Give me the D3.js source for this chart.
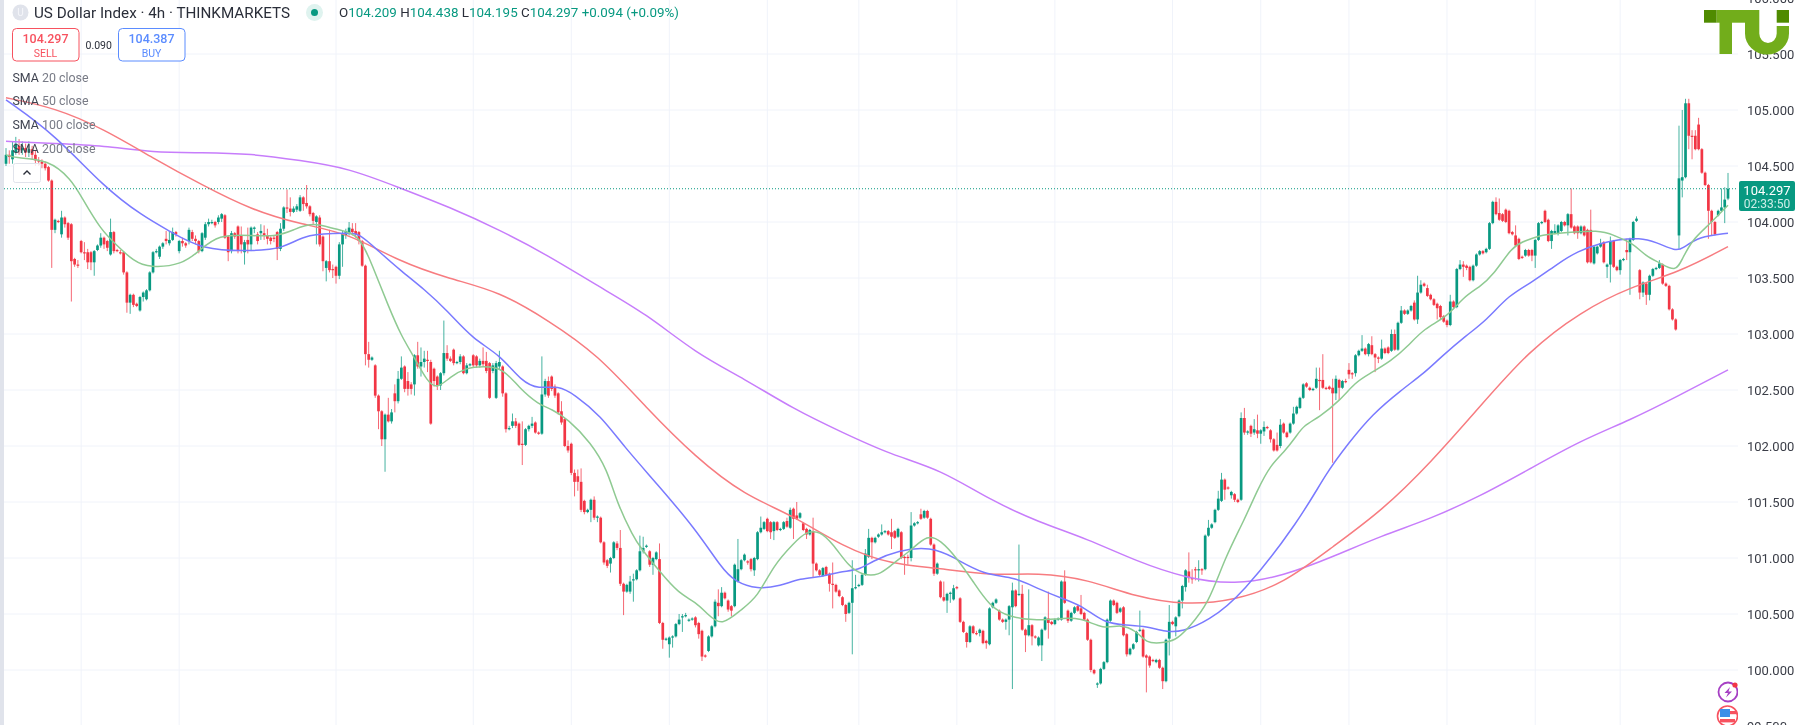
<!DOCTYPE html>
<html>
<head>
<meta charset="utf-8">
<script src="https://cdn.jsdelivr.net/npm/d3@7"></script>
<style>
	html, body { margin: 0; padding: 0; background: #fff; overflow: hidden; }
	svg { display: block; font-family: Roboto, sans-serif; filter: blur(0.35px); }
</style>
</head>
<body>
<svg id="chart" width="1800" height="725"></svg>
<script>
const opens = [
104.52,104.60,104.56,104.62,104.68,104.64,104.66,104.62,104.65,104.60,
104.55,104.54,104.52,104.49,104.37,103.93,104.01,103.89,104.04,103.99,
103.98,103.67,103.62,103.83,103.73,103.73,103.73,103.64,103.75,103.79,
103.86,103.83,103.71,103.91,103.75,103.73,103.73,103.55,103.28,103.35,
103.27,103.21,103.33,103.31,103.39,103.55,103.73,103.69,103.78,103.85,
103.81,103.84,103.91,103.74,103.83,103.81,103.83,103.91,103.85,103.83,
103.74,103.86,103.98,104.00,104.00,104.00,104.03,104.06,103.87,103.74,
103.90,103.96,103.88,103.73,103.84,103.80,103.94,103.89,103.90,103.90,
103.88,103.86,103.86,103.91,103.76,103.94,104.13,104.12,104.09,104.11,
104.10,104.22,104.17,104.14,104.08,104.00,104.04,103.87,103.59,103.65,
103.58,103.60,103.52,103.80,103.88,103.90,103.94,103.92,103.91,103.83,
103.61,102.82,102.77,102.72,102.45,102.31,102.06,102.28,102.22,102.47,
102.40,102.60,102.71,102.58,102.55,102.55,102.81,102.71,102.75,102.77,
102.75,102.69,102.62,102.54,102.65,102.83,102.78,102.86,102.74,102.75,
102.80,102.65,102.72,102.81,102.80,102.72,102.76,102.76,102.74,102.67,
102.43,102.71,102.71,102.47,102.15,102.18,102.22,102.20,102.02,102.01,
102.15,102.18,102.21,102.12,102.11,102.46,102.58,102.62,102.53,102.47,
102.31,102.24,102.00,102.02,101.76,101.73,101.68,101.51,101.41,101.43,
101.52,101.36,101.36,101.14,100.98,100.95,101.00,101.13,101.09,100.77,
100.70,100.70,100.80,100.81,100.89,101.06,101.10,101.06,100.94,100.99,
100.99,100.42,100.27,100.23,100.29,100.30,100.41,100.47,100.48,100.44,
100.45,100.47,100.42,100.35,100.13,100.17,100.30,100.39,100.60,100.57,
100.69,100.62,100.57,100.57,100.79,100.90,100.98,100.97,100.99,100.89,
100.99,101.23,101.26,101.35,101.32,101.24,101.32,101.25,101.26,101.33,
101.27,101.44,101.38,101.36,101.31,101.26,101.21,101.24,100.95,100.89,
100.84,100.92,100.86,100.77,100.76,100.71,100.65,100.58,100.51,100.60,
100.73,100.75,100.76,100.85,101.01,101.18,101.14,101.19,101.21,101.23,
101.24,101.23,101.24,101.19,101.23,101.01,101.01,101.00,101.29,101.31,
101.39,101.36,101.42,101.35,101.12,100.86,100.79,100.65,100.62,100.68,
100.63,100.74,100.64,100.43,100.33,100.25,100.39,100.33,100.33,100.35,
100.26,100.23,100.56,100.60,100.53,100.45,100.43,100.45,100.56,100.71,
100.67,100.68,100.36,100.31,100.40,100.30,100.22,100.22,100.36,100.46,
100.43,100.41,100.45,100.45,100.79,100.53,100.44,100.51,100.57,100.55,
100.51,100.45,100.27,100.00,99.87,99.88,100.01,100.07,100.44,100.62,
100.60,100.52,100.56,100.32,100.14,100.19,100.25,100.35,100.36,100.13,
100.12,100.09,100.07,100.09,100.02,99.90,100.28,100.43,100.39,100.48,
100.62,100.74,100.88,100.82,100.90,100.89,100.90,100.90,101.20,101.27,
101.32,101.43,101.51,101.70,101.63,101.56,101.57,101.52,101.52,102.25,
102.12,102.18,102.12,102.14,102.11,102.13,102.17,102.14,102.06,102.01,
102.00,102.20,102.12,102.12,102.20,102.29,102.34,102.43,102.56,102.52,
102.50,102.52,102.59,102.59,102.52,102.53,102.52,102.47,102.59,102.52,
102.58,102.68,102.65,102.65,102.81,102.85,102.87,102.82,102.90,102.82,
102.79,102.78,102.87,102.88,102.85,103.00,102.86,103.10,103.21,103.18,
103.21,103.28,103.13,103.37,103.45,103.41,103.35,103.31,103.27,103.25,
103.16,103.12,103.08,103.29,103.24,103.58,103.62,103.61,103.60,103.48,
103.61,103.71,103.74,103.73,103.76,103.99,104.18,104.08,104.07,104.11,
104.10,103.91,103.88,103.85,103.69,103.70,103.75,103.75,103.70,103.84,
103.99,104.10,104.02,103.83,103.90,103.90,103.92,104.00,103.97,104.07,
103.96,103.96,103.90,103.96,103.93,103.93,103.63,103.72,103.78,103.82,
103.60,103.62,103.83,103.60,103.57,103.66,103.75,103.73,103.84,104.01,
103.57,103.37,103.45,103.35,103.52,103.58,103.59,103.62,103.45,103.43,
103.22,103.13,103.88,104.37,104.40,105.06,104.77,104.77,104.87,104.65,
104.44,104.33,104.10,104.00,104.06,104.10,104.13,104.209];
const closes = [
104.60,104.58,104.64,104.70,104.64,104.66,104.62,104.65,104.60,104.55,
104.54,104.52,104.48,104.37,103.93,104.02,104.00,104.04,103.98,103.86,
103.65,103.62,103.61,103.73,103.72,103.64,103.64,103.74,103.79,103.86,
103.80,103.77,103.91,103.74,103.74,103.72,103.55,103.28,103.35,103.26,
103.25,103.33,103.37,103.39,103.55,103.73,103.74,103.78,103.81,103.83,
103.84,103.91,103.89,103.83,103.81,103.79,103.93,103.85,103.83,103.74,
103.90,103.98,104.00,104.00,103.97,104.04,104.07,103.86,103.73,103.90,
103.87,103.74,103.80,103.82,103.80,103.95,103.95,103.83,103.92,103.88,
103.85,103.83,103.85,103.76,103.94,104.13,104.12,104.09,104.12,104.14,
104.22,104.16,104.14,104.07,104.01,104.05,103.80,103.65,103.65,103.57,
103.57,103.52,103.80,103.90,103.92,103.95,103.91,103.89,103.83,103.61,
102.82,102.77,102.79,102.45,102.31,102.06,102.28,102.22,102.30,102.40,
102.60,102.70,102.51,102.51,102.51,102.81,102.71,102.75,102.78,102.76,
102.20,102.58,102.54,102.65,102.83,102.78,102.76,102.74,102.75,102.80,
102.65,102.72,102.73,102.72,102.72,102.76,102.73,102.67,102.43,102.72,
102.74,102.75,102.47,102.15,102.16,102.22,102.18,102.01,102.01,102.15,
102.18,102.20,102.12,102.11,102.46,102.58,102.45,102.51,102.45,102.30,
102.21,102.00,101.96,101.76,101.68,101.68,101.43,101.41,101.43,101.52,
101.36,101.37,101.14,100.96,100.93,101.00,101.14,101.09,100.77,100.70,
100.76,100.79,100.81,100.89,101.06,101.09,101.11,100.94,101.00,101.05,
100.42,100.27,100.28,100.29,100.30,100.41,100.45,100.48,100.49,100.45,
100.46,100.40,100.32,100.12,100.12,100.30,100.39,100.61,100.57,100.69,
100.64,100.54,100.53,100.94,100.90,100.98,101.03,100.96,100.90,101.00,
101.23,101.27,101.32,101.24,101.23,101.32,101.25,101.26,101.32,101.28,
101.43,101.35,101.35,101.40,101.25,101.21,101.25,100.95,100.89,100.85,
100.91,100.85,100.77,100.76,100.70,100.66,100.58,100.50,100.60,100.73,
100.74,100.76,100.85,101.04,101.18,101.14,101.18,101.21,101.23,101.24,
101.21,101.19,101.18,101.26,101.00,101.00,101.00,101.29,101.31,101.32,
101.35,101.42,101.36,101.12,100.86,100.95,100.65,100.62,100.68,100.69,
100.73,100.73,100.43,100.34,100.25,100.39,100.33,100.32,100.36,100.24,
100.24,100.55,100.60,100.63,100.45,100.43,100.45,100.57,100.71,100.57,
100.68,100.36,100.31,100.40,100.30,100.29,100.29,100.36,100.47,100.42,
100.41,100.45,100.46,100.79,100.60,100.44,100.51,100.56,100.53,100.50,
100.45,100.27,100.00,99.97,99.88,100.01,100.07,100.45,100.62,100.58,
100.51,100.55,100.31,100.14,100.19,100.23,100.34,100.36,100.12,100.11,
100.04,100.08,100.09,100.02,99.90,100.27,100.43,100.41,100.47,100.62,
100.75,100.89,100.82,100.81,100.89,100.90,100.89,101.20,101.27,101.30,
101.43,101.53,101.70,101.61,101.62,101.59,101.52,101.50,102.25,102.12,
102.13,102.11,102.15,102.11,102.14,102.17,102.16,102.06,101.96,101.96,
102.19,102.12,102.08,102.20,102.29,102.35,102.43,102.55,102.53,102.50,
102.51,102.60,102.58,102.52,102.51,102.51,102.47,102.60,102.52,102.58,
102.57,102.64,102.64,102.81,102.85,102.87,102.82,102.91,102.82,102.79,
102.78,102.87,102.83,102.83,103.00,102.86,103.10,103.21,103.18,103.21,
103.25,103.13,103.37,103.44,103.43,103.34,103.31,103.26,103.23,103.15,
103.11,103.08,103.29,103.24,103.58,103.62,103.60,103.59,103.48,103.61,
103.71,103.74,103.72,103.76,103.99,104.18,104.07,104.02,104.01,104.00,
103.90,103.89,103.79,103.67,103.68,103.75,103.70,103.70,103.84,103.99,
104.00,104.00,103.83,103.92,103.92,103.97,104.00,103.97,104.07,103.95,
103.90,103.90,103.96,103.88,103.64,103.64,103.78,103.78,103.81,103.64,
103.62,103.83,103.60,103.57,103.66,103.67,103.73,103.85,104.00,104.03,
103.37,103.46,103.35,103.52,103.58,103.59,103.63,103.45,103.43,103.22,
103.13,103.04,104.39,104.40,105.06,104.77,104.76,104.65,104.65,104.44,
104.33,104.10,104.00,103.89,104.10,104.13,104.20,104.297];
const highs = [
104.66,104.64,104.72,104.76,104.74,104.72,104.70,104.72,104.68,104.64,
104.58,104.56,104.54,104.50,104.38,104.03,104.02,104.10,104.05,104.00,
103.99,103.68,103.66,103.84,103.82,103.76,103.74,103.75,103.80,103.90,
103.87,103.84,104.03,103.92,103.76,103.75,103.74,103.56,103.36,103.36,
103.28,103.34,103.38,103.40,103.56,103.74,103.76,103.79,103.82,103.92,
103.92,103.95,103.92,103.84,103.86,103.82,103.95,103.93,103.88,103.84,
103.91,104.00,104.03,104.02,104.01,104.06,104.08,104.07,103.88,103.92,
103.91,103.97,103.96,103.84,103.95,103.96,103.96,103.91,103.98,103.97,
103.94,103.87,103.88,103.92,103.99,104.14,104.29,104.22,104.14,104.16,
104.24,104.23,104.33,104.15,104.09,104.06,104.06,103.88,103.66,103.93,
103.62,103.61,103.82,103.92,103.94,104.00,103.99,103.99,103.92,103.84,
103.62,102.93,102.80,102.73,102.46,102.32,102.29,102.43,102.33,102.55,
102.67,102.80,102.72,102.66,102.57,102.82,102.93,102.88,102.85,102.85,
102.77,102.70,102.63,102.66,103.12,102.90,102.80,102.87,102.76,102.82,
102.81,102.74,102.74,102.82,102.81,102.78,102.88,102.84,102.75,102.74,
102.76,102.85,102.72,102.48,102.18,102.29,102.25,102.21,102.22,102.16,
102.19,102.26,102.22,102.13,102.80,102.60,102.62,102.63,102.55,102.48,
102.40,102.25,102.05,102.03,101.79,101.79,101.80,101.52,101.44,101.53,
101.55,101.38,101.37,101.15,100.99,101.01,101.15,101.15,101.25,100.78,
100.77,100.84,100.86,100.90,101.20,101.19,101.12,101.07,101.01,101.06,
101.13,100.43,100.29,100.30,100.31,100.42,100.50,100.50,100.51,100.46,
100.47,100.48,100.43,100.36,100.14,100.31,100.40,100.63,100.72,100.74,
100.70,100.63,100.58,100.95,101.17,100.99,101.04,100.98,101.00,101.01,
101.24,101.37,101.33,101.36,101.33,101.33,101.33,101.27,101.33,101.36,
101.45,101.45,101.50,101.41,101.32,101.27,101.26,101.36,100.96,100.90,
100.92,100.93,100.87,100.96,100.77,100.72,100.66,100.59,100.61,100.98,
100.85,100.77,100.86,101.08,101.26,101.19,101.19,101.22,101.30,101.25,
101.25,101.35,101.25,101.27,101.24,101.02,101.03,101.41,101.32,101.33,
101.44,101.43,101.43,101.36,101.13,100.96,100.80,100.79,100.69,100.70,
100.76,100.75,100.65,100.44,100.34,100.40,100.40,100.35,100.37,100.36,
100.27,100.56,100.61,100.64,100.54,100.46,100.46,100.58,100.78,100.72,
101.12,100.76,100.37,100.72,100.41,100.31,100.30,100.37,100.48,100.70,
100.44,100.46,100.47,100.80,100.89,100.54,100.52,100.57,100.58,100.67,
100.52,100.46,100.28,100.01,99.89,100.02,100.08,100.46,100.63,100.63,
100.61,100.56,100.57,100.33,100.20,100.24,100.35,100.53,100.37,100.14,
100.13,100.10,100.10,100.10,100.03,100.28,100.58,100.44,100.48,100.63,
100.76,100.90,101.05,100.90,100.92,100.98,100.91,101.21,101.34,101.31,
101.44,101.60,101.76,101.71,101.64,101.60,101.58,101.53,102.30,102.34,
102.14,102.19,102.24,102.28,102.15,102.22,102.18,102.15,102.07,102.12,
102.24,102.21,102.13,102.21,102.35,102.36,102.44,102.56,102.57,102.53,
102.52,102.70,102.70,102.82,102.53,102.54,102.60,102.63,102.60,102.59,
102.60,102.74,102.66,102.82,102.86,102.99,102.88,102.92,102.98,102.83,
102.80,102.95,102.88,102.89,103.04,103.04,103.11,103.25,103.22,103.22,
103.26,103.30,103.52,103.48,103.46,103.44,103.36,103.32,103.28,103.26,
103.17,103.13,103.35,103.30,103.59,103.66,103.65,103.62,103.61,103.62,
103.72,103.75,103.75,103.77,104.00,104.19,104.22,104.21,104.08,104.12,
104.11,103.92,103.97,103.86,103.70,103.76,103.76,103.76,103.85,104.00,
104.01,104.11,104.03,103.93,103.98,103.98,104.01,104.01,104.08,104.30,
103.97,103.97,103.97,103.97,103.94,104.11,103.79,103.79,103.85,103.83,
103.63,103.87,103.84,103.61,103.67,103.68,103.85,103.86,104.01,104.05,
103.58,103.47,103.46,103.53,103.59,103.60,103.66,103.63,103.46,103.44,
103.23,103.14,104.86,105.00,105.10,105.10,104.82,104.82,104.93,104.66,
104.45,104.34,104.11,104.01,104.11,104.30,104.31,104.438];
const lows = [
104.50,104.52,104.52,104.60,104.60,104.60,104.58,104.58,104.56,104.50,
104.50,104.48,104.46,104.36,103.59,103.90,103.99,103.86,103.95,103.84,
103.29,103.60,103.59,103.72,103.66,103.58,103.57,103.52,103.74,103.77,
103.76,103.74,103.70,103.72,103.73,103.71,103.53,103.19,103.18,103.24,
103.24,103.20,103.29,103.30,103.38,103.54,103.72,103.67,103.76,103.80,
103.79,103.83,103.87,103.72,103.78,103.77,103.80,103.83,103.80,103.72,
103.73,103.84,103.96,103.98,103.95,103.98,104.00,103.85,103.65,103.72,
103.85,103.72,103.72,103.62,103.72,103.74,103.90,103.80,103.84,103.84,
103.80,103.80,103.82,103.66,103.74,103.92,104.08,104.05,104.08,104.09,
104.09,104.10,104.12,104.05,103.98,103.80,103.78,103.56,103.47,103.55,
103.50,103.45,103.49,103.60,103.85,103.88,103.88,103.86,103.80,103.60,
102.72,102.70,102.76,102.43,102.15,102.00,101.77,102.21,102.20,102.30,
102.38,102.59,102.48,102.45,102.46,102.45,102.69,102.62,102.70,102.66,
102.19,102.53,102.50,102.50,102.63,102.76,102.75,102.72,102.73,102.73,
102.64,102.64,102.71,102.70,102.70,102.70,102.71,102.65,102.42,102.65,
102.42,102.68,102.44,102.12,102.14,102.16,102.16,102.00,101.83,102.00,
102.13,102.16,102.11,102.10,102.10,102.44,102.43,102.49,102.43,102.28,
102.19,101.99,101.94,101.74,101.55,101.60,101.41,101.39,101.40,101.32,
101.34,101.32,101.13,100.94,100.91,100.87,100.99,101.07,100.75,100.49,
100.69,100.68,100.61,100.80,100.88,101.04,101.09,100.92,100.85,100.98,
100.41,100.19,100.26,100.11,100.20,100.29,100.40,100.34,100.47,100.43,
100.44,100.38,100.28,100.08,100.11,100.16,100.29,100.38,100.48,100.56,
100.63,100.52,100.48,100.56,100.78,100.89,100.97,100.94,100.88,100.84,
100.98,101.22,101.25,101.23,101.17,101.16,101.24,101.24,101.25,101.27,
101.26,101.17,101.34,101.35,101.24,101.17,101.20,100.83,100.88,100.84,
100.83,100.84,100.70,100.55,100.69,100.65,100.57,100.43,100.50,100.14,
100.72,100.74,100.75,100.84,101.00,100.99,101.13,101.18,101.20,101.22,
101.20,101.08,101.17,101.18,100.99,100.85,100.94,100.97,101.28,101.30,
101.34,101.35,101.35,101.11,100.84,100.85,100.64,100.61,100.51,100.60,
100.62,100.72,100.42,100.33,100.20,100.24,100.32,100.31,100.30,100.23,
100.19,100.22,100.55,100.59,100.44,100.42,100.36,100.31,99.83,100.56,
100.66,100.35,100.16,100.30,100.22,100.28,100.21,100.08,100.35,100.28,
100.40,100.40,100.44,100.44,100.59,100.42,100.43,100.50,100.52,100.49,
100.44,100.26,99.98,99.96,99.84,99.87,100.00,100.06,100.43,100.57,
100.50,100.51,100.30,100.12,100.13,100.18,100.24,100.34,100.11,99.80,
100.02,100.07,100.06,100.01,99.83,99.89,100.13,100.40,100.30,100.47,
100.55,100.70,100.78,100.77,100.80,100.79,100.85,100.89,101.19,101.26,
101.31,101.42,101.50,101.52,101.61,101.53,101.50,101.49,101.51,102.10,
102.10,102.08,102.10,102.07,102.02,102.09,102.15,102.03,101.95,101.95,
101.98,102.11,102.07,102.11,102.19,102.28,102.33,102.42,102.52,102.49,
102.49,102.51,102.32,102.51,102.50,102.50,101.85,102.41,102.41,102.51,
102.56,102.60,102.60,102.62,102.80,102.84,102.81,102.80,102.81,102.66,
102.74,102.77,102.82,102.82,102.84,102.85,102.85,103.09,103.17,103.17,
103.20,103.12,103.09,103.36,103.42,103.33,103.30,103.25,103.13,103.13,
103.10,103.06,103.07,103.22,103.23,103.57,103.51,103.57,103.47,103.47,
103.60,103.70,103.71,103.72,103.75,103.98,104.06,104.01,104.00,103.99,
103.89,103.88,103.78,103.66,103.67,103.69,103.69,103.65,103.59,103.83,
103.98,103.99,103.82,103.76,103.89,103.88,103.91,103.96,103.88,103.94,
103.89,103.85,103.89,103.87,103.63,103.63,103.62,103.71,103.77,103.63,
103.50,103.46,103.59,103.56,103.53,103.65,103.66,103.35,103.83,104.00,
103.31,103.33,103.26,103.30,103.51,103.57,103.58,103.44,103.42,103.21,
103.12,103.03,103.76,104.22,104.39,104.65,104.56,104.64,104.64,104.43,
104.32,103.85,103.88,103.88,104.05,104.09,103.99,104.195];

const sma20Bars = [0,3,13,20,23,29,34,39,44,54,59,65,75,83,88,94,101,108,112,117,121,125,129,132,136,141,146,152,157,163,167,172,179,184,187,192,194,200,206,211,215,219,225,230,235,241,245,249,253,258,262,267,271,277,282,286,291,296,301,307,316,322,329,336,341,346,349,353,358,362,368,373,379,383,387,391,395,397,402,408,413,417,424,429,434,441,446,451,455,461,464,469,475,488,492,498,502,506,511,513,516,521,527];
const sma20 = [104.60,104.57,104.56,104.38,104.23,103.93,103.79,103.65,103.59,103.62,103.74,103.89,103.88,103.87,103.93,104.00,103.93,103.90,103.62,103.25,102.98,102.79,102.57,102.51,102.62,102.70,102.71,102.70,102.52,102.37,102.33,102.24,102.03,101.79,101.49,101.19,101.10,100.88,100.68,100.61,100.49,100.39,100.54,100.65,100.94,101.13,101.24,101.24,101.13,100.92,100.85,100.84,100.94,101.07,101.21,101.16,101.00,100.79,100.57,100.47,100.44,100.46,100.47,100.36,100.41,100.35,100.24,100.24,100.26,100.38,100.59,101.00,101.34,101.61,101.83,101.94,102.09,102.18,102.26,102.40,102.57,102.64,102.76,102.89,103.05,103.15,103.33,103.42,103.52,103.78,103.82,103.88,103.90,103.93,103.88,103.81,103.69,103.64,103.55,103.67,103.84,103.97,104.15];
const sma50Bars = [0,15,30,42,50,60,75,85,92,105,108,114,121,128,135,143,151,158,163,169,174,182,189,199,211,219,223,230,237,243,250,255,261,265,273,283,290,299,309,316,325,330,336,343,349,355,360,368,378,396,404,411,418,427,434,439,447,453,460,467,475,481,488,493,500,505,511,513,518,527];
const sma50 = [105.09,104.78,104.31,104.05,103.92,103.75,103.74,103.76,103.90,103.90,103.90,103.74,103.56,103.40,103.21,102.95,102.82,102.57,102.51,102.54,102.46,102.27,102.00,101.67,101.26,100.91,100.79,100.72,100.75,100.82,100.83,100.88,100.89,100.97,101.07,101.10,101.01,100.85,100.83,100.72,100.62,100.56,100.42,100.40,100.39,100.34,100.34,100.44,100.66,101.34,101.76,102.03,102.28,102.50,102.65,102.79,102.99,103.12,103.35,103.46,103.63,103.74,103.81,103.84,103.86,103.82,103.74,103.76,103.87,103.90];
const smaBars = [0,15,30,45,60,75,90,105,120,136,151,166,181,196,211,226,241,256,271,286,301,316,331,346,361,376,391,406,421,436,451,466,482,497,512,527];
const sma100 = [105.11,105.02,104.83,104.57,104.33,104.11,103.98,103.90,103.65,103.49,103.38,103.12,102.82,102.34,101.90,101.56,101.38,101.10,100.94,100.91,100.84,100.87,100.81,100.65,100.58,100.62,100.77,101.10,101.42,101.85,102.35,102.85,103.20,103.42,103.55,103.78];
const sma200 = [104.72,104.70,104.68,104.62,104.62,104.61,104.55,104.48,104.31,104.13,103.93,103.70,103.43,103.18,102.83,102.60,102.33,102.12,101.92,101.79,101.52,101.32,101.17,100.97,100.82,100.76,100.84,101.01,101.20,101.35,101.55,101.79,102.05,102.23,102.45,102.68];

const priceTicks = [99.5,100,100.5,101,101.5,102,102.5,103,103.5,104,104.5,105,105.5,106];
const gridBars = [23,53,101,143,173,203,233,261,291,321,357,384,411,441,468,494];
const lastPrice = 104.297;
const legendNames = ["20 close","50 close","100 close","200 close"];
const ohlcParts = [["O","104.209"],["H","104.438"],["L","104.195"],["C","104.297"]];

const UP = "#089981", DOWN = "#f23645";
const plotLeft = 4, plotRight = 1738;

const svg = d3.select("#chart");
const x = d3.scaleLinear().domain([0, opens.length - 1]).range([6, 1728]);
const y = d3.scaleLinear().domain([100, 105]).range([670, 110]);

svg.append("defs").append("clipPath").attr("id", "plot")
	.append("rect").attr("x", plotLeft).attr("y", 0).attr("width", plotRight - plotLeft).attr("height", 725);

const plot = svg.append("g").attr("clip-path", "url(#plot)");

// grid
plot.append("g").selectAll("line").data(priceTicks).join("line")
	.attr("x1", plotLeft).attr("x2", plotRight)
	.attr("y1", d => y(d)).attr("y2", d => y(d))
	.attr("stroke", "#f0f3fa").attr("stroke-width", 1);
plot.append("g").selectAll("line").data(gridBars).join("line")
	.attr("x1", d => x(d)).attr("x2", d => x(d))
	.attr("y1", 0).attr("y2", 725)
	.attr("stroke", "#f0f3fa").attr("stroke-width", 1);

// candles
const bars = d3.range(opens.length).map(i => ({ i, o: opens[i], h: highs[i], l: lows[i], c: closes[i] }));
const bw = 2.7;
const candle = plot.append("g").selectAll("g").data(bars).join("g");
candle.append("line")
	.attr("x1", d => x(d.i)).attr("x2", d => x(d.i))
	.attr("y1", d => y(d.h)).attr("y2", d => y(d.l))
	.attr("stroke", d => d.c >= d.o ? UP : DOWN)
	.attr("stroke-width", 1).attr("stroke-opacity", 0.75);
candle.append("rect")
	.attr("x", d => x(d.i) - bw/2)
	.attr("y", d => y(Math.max(d.o, d.c)))
	.attr("width", bw)
	.attr("height", d => Math.max(1.2, Math.abs(y(d.o) - y(d.c))))
	.attr("fill", d => d.c >= d.o ? UP : DOWN);

// moving averages
const smaPath = (idx, vals) => d3.line()
	.x((d, i) => x(idx[i]))
	.y(d => y(d))
	.curve(d3.curveBasis)(vals);
[[smaBars, sma200, "#c77dfb"], [smaBars, sma100, "#f77c80"], [sma50Bars, sma50, "#7a7aff"], [sma20Bars, sma20, "#8fca92"]].forEach(([idx, vals, col]) => {
	plot.append("path").attr("d", smaPath(idx, vals))
		.attr("fill", "none").attr("stroke", col).attr("stroke-width", 1.5);
});

// last price line
plot.append("line")
	.attr("x1", plotLeft).attr("x2", plotRight)
	.attr("y1", y(lastPrice)).attr("y2", y(lastPrice))
	.attr("stroke", UP).attr("stroke-width", 1).attr("stroke-dasharray", "1 2");

// left stripe
svg.append("rect").attr("x", 0).attr("y", 0).attr("width", 4).attr("height", 725).attr("fill", "#e0e3eb");

// price axis
const axis = svg.append("g").attr("transform", `translate(${plotRight}, 0)`)
	.call(d3.axisRight(y).tickValues(priceTicks).tickSize(0).tickPadding(9).tickFormat(d3.format(".3f")));
axis.select(".domain").remove();
axis.selectAll("text").attr("font-family", "Roboto, sans-serif").attr("font-size", 13).attr("fill", "#3a3d47");

// last price label
const lab = svg.append("g");
lab.append("rect").attr("x", plotRight + 1).attr("y", 181).attr("width", 56).attr("height", 30).attr("rx", 2).attr("fill", UP);
lab.append("text").attr("x", 1767).attr("y", 194.5).attr("text-anchor", "middle")
	.attr("font-size", 13).attr("fill", "#fff").text(d3.format(".3f")(lastPrice));
lab.append("text").attr("x", 1767).attr("y", 208).attr("text-anchor", "middle")
	.attr("font-size", 12).attr("fill", "#cfeee8").text("02:33:50");

// header
svg.append("circle").attr("cx", 20.5).attr("cy", 12.5).attr("r", 8).attr("fill", "#e0e3eb");
svg.append("text").attr("x", 20.5).attr("y", 16).attr("text-anchor", "middle")
	.attr("font-size", 10).attr("fill", "#f5f6fa").text("U");
svg.append("text").attr("x", 34).attr("y", 18).attr("font-size", 15).attr("fill", "#2a2e39")
	.attr("textLength", 256).attr("lengthAdjust", "spacingAndGlyphs")
	.text("US Dollar Index · 4h · THINKMARKETS");
svg.append("circle").attr("cx", 314.5).attr("cy", 12.5).attr("r", 8.5).attr("fill", "#dff3ef");
svg.append("circle").attr("cx", 314.5).attr("cy", 12.5).attr("r", 3.5).attr("fill", UP);

const ohlc = svg.append("text").attr("x", 339).attr("y", 17).attr("font-size", 13)
	.attr("textLength", 340).attr("lengthAdjust", "spacingAndGlyphs");
ohlcParts.forEach(([k, v]) => {
	ohlc.append("tspan").attr("fill", "#2a2e39").text(k);
	ohlc.append("tspan").attr("fill", UP).text(v + "  ");
});
ohlc.append("tspan").attr("fill", UP).text("+0.094 (+0.09%)");

// sell / buy boxes
[[12.5, "#f7525f", "104.297", "SELL"], [118.5, "#5b8cff", "104.387", "BUY"]].forEach(([bx, col, price, name]) => {
	svg.append("rect").attr("x", bx).attr("y", 28.5).attr("width", 66.5).attr("height", 32.5).attr("rx", 4)
		.attr("fill", "#fff").attr("stroke", col).attr("stroke-width", 1);
	svg.append("text").attr("x", bx + 33).attr("y", 43).attr("text-anchor", "middle")
		.attr("font-size", 12.5).attr("font-weight", 500).attr("fill", col).text(price);
	svg.append("text").attr("x", bx + 33).attr("y", 56.5).attr("text-anchor", "middle")
		.attr("font-size", 10.5).attr("fill", col).text(name);
});
svg.append("text").attr("x", 98.7).attr("y", 48.5).attr("text-anchor", "middle")
	.attr("font-size", 10.5).attr("fill", "#2a2e39").text("0.090");

// legend
legendNames.forEach((name, i) => {
	const t = svg.append("text").attr("x", 12.5).attr("y", [82, 105, 129, 153][i]).attr("font-size", 12.4);
	t.append("tspan").attr("fill", "#3f4350").text("SMA ");
	t.append("tspan").attr("fill", "#787b86").text(name);
});
svg.append("rect").attr("x", 13.5).attr("y", 163.5).attr("width", 27).attr("height", 19).attr("rx", 2)
	.attr("fill", "#fff").attr("fill-opacity", 0.85).attr("stroke", "#e0e3eb");
svg.append("path").attr("d", "M23.5 174.5 L27 171 L30.5 174.5")
	.attr("fill", "none").attr("stroke", "#2a2e39").attr("stroke-width", 1.4);

// logo
const logoLight = "#72ad1b", logoDark = "#4f8b00";
const logo = svg.append("g");
logo.append("rect").attr("x", 1704).attr("y", 10).attr("width", 12.7).attr("height", 12.7).attr("fill", logoDark);
logo.append("rect").attr("x", 1716.7).attr("y", 10).attr("width", 29).attr("height", 12.7).attr("fill", logoLight);
logo.append("rect").attr("x", 1719.5).attr("y", 22).attr("width", 12.5).attr("height", 32).attr("fill", logoLight);
logo.append("path").attr("fill", logoLight)
	.attr("d", "M1745 10 H1759.3 V33.5 A8.7 9.5 0 0 0 1776.7 33.5 V26 H1789 V33.5 A22 21 0 0 1 1745 33.5 Z");
logo.append("rect").attr("x", 1776.7).attr("y", 10).attr("width", 12.3).attr("height", 12.7).attr("fill", logoDark);

// event icons
const icons = svg.append("g").attr("clip-path", "url(#plot)");
icons.append("circle").attr("cx", 1728).attr("cy", 692).attr("r", 9.5)
	.attr("fill", "#fff").attr("stroke", "#a63fc4").attr("stroke-width", 1.8);
icons.append("path").attr("d", "M1730 687 L1724.5 693 H1728 L1726 697.5 L1732 691.5 H1728.5 Z").attr("fill", "#a63fc4");
icons.append("circle").attr("cx", 1735).attr("cy", 685).attr("r", 2.6).attr("fill", "#f23645");
icons.append("circle").attr("cx", 1727.5).attr("cy", 716).attr("r", 10)
	.attr("fill", "#fff").attr("stroke", "#f7525f").attr("stroke-width", 1.6);
icons.append("rect").attr("x", 1720).attr("y", 709).attr("width", 10).attr("height", 8).attr("fill", "#3d8fe8");
icons.append("rect").attr("x", 1730).attr("y", 711).attr("width", 7).attr("height", 3.2).attr("fill", "#f7525f");
icons.append("rect").attr("x", 1720).attr("y", 719).attr("width", 15).attr("height", 3.4).attr("fill", "#f7525f");
</script>
</body>
</html>
